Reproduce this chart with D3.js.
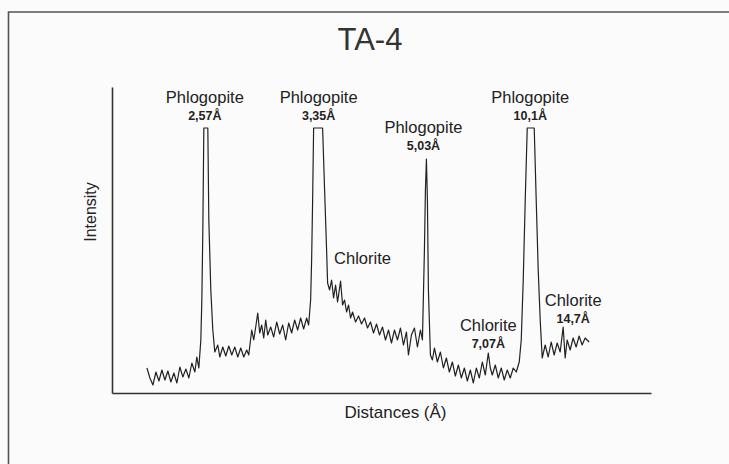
<!DOCTYPE html>
<html>
<head>
<meta charset="utf-8">
<script src="https://cdn.jsdelivr.net/npm/d3@7"></script>
<style>
  html, body { margin: 0; padding: 0; background: #fbfbfb; }
  svg { display: block; font-family: "Liberation Sans", Arial, sans-serif; }
</style>
</head>
<body>
<div id="chart"></div>
<script>
// diffractogram trace (position in scan units, intensity in counts-ish units)
const positions = [
  35, 38, 41, 44, 47, 50, 53, 56, 59, 62, 65, 68, 71, 74, 77, 80, 83, 85, 87,
  89, 90, 91, 92, 96, 97, 99, 101, 103,
  106, 108, 111, 114, 117, 120, 123, 126, 129, 132, 135, 137,
  140, 142, 144, 146, 148, 150, 152, 154, 156, 159, 162, 165, 168, 171, 174,
  177, 180, 183, 186, 189, 192, 195, 197,
  199, 200, 201, 202, 211, 213, 215, 216,
  218, 220, 222, 224, 226, 229, 231, 233, 235, 237, 239, 241, 244, 247, 250,
  253, 256, 259, 262, 265, 268, 271, 274, 277, 280, 283, 286, 289, 292, 295,
  297, 300, 303, 306, 309, 311,
  313, 314, 315, 316, 317, 319,
  321, 323, 326, 329, 332, 335, 338, 341, 344, 347, 350, 353, 356, 359, 362,
  365, 368, 371, 374, 377, 379, 381, 384, 387, 390, 393, 396, 399, 402, 405,
  408, 410, 412, 414, 416, 423, 425, 427, 429, 431,
  434, 437, 440, 443, 446, 449, 452, 454, 456, 459, 462, 465, 468, 471, 474, 478
];
const intensities = [
  25, 15, 8, 21, 12, 23, 13, 22, 11, 20, 10, 26, 16, 24, 15, 30, 21, 36, 25,
  53, 93, 163, 265, 265, 173, 103, 63, 41,
  48, 36, 46, 37, 47, 38, 46, 36, 45, 36, 43, 38,
  63, 53, 66, 80, 60, 68, 55, 73, 58, 66, 56, 71, 59, 68, 53,
  70, 60, 73, 63, 75, 64, 75, 68,
  93, 133, 193, 265, 265, 203, 143, 110,
  103, 113, 95, 108, 91, 112, 88, 93, 81, 88, 75, 81, 71, 77, 69,
  75, 65, 71, 60, 69, 58, 66, 53, 63, 50, 63, 53, 65, 48, 61,
  38, 58, 65, 46, 63, 53,
  143, 203, 234, 193, 103, 38,
  33, 45, 31, 41, 25, 35, 21, 31, 17, 28, 15, 25, 12, 23, 10,
  25, 15, 31, 18, 40, 25, 18, 28, 15, 25, 13, 23, 15, 25, 21,
  31, 53, 113, 193, 265, 265, 193, 123, 73, 35,
  48, 36, 51, 38, 50, 41, 66, 35, 53, 43, 55, 46, 57, 48, 55, 51
];

// peak annotations
const annNames  = ["Phlogopite", "Phlogopite", "Chlorite", "Phlogopite", "Chlorite", "Phlogopite", "Chlorite"];
const annValues = ["2,57Å", "3,35Å", "", "5,03Å", "7,07Å", "10,1Å", "14,7Å"];
const annX      = [93, 207, 251, 312, 377, 419, 462];
const annY      = [290, 290, 129, 260, 62, 290, 87];

const title  = "TA-4";
const xTitle = "Distances (Å)";
const yTitle = "Intensity";

const W = 729, H = 464;
const m = { top: 87, right: 78, bottom: 71, left: 112 };

const svg = d3.select("#chart")
  .append("svg")
    .attr("width", W)
    .attr("height", H);

// scanned page frame (top + left edges only)
svg.append("path")
    .attr("d", `M8.5,${H}V12H${W}`)
    .attr("fill", "none")
    .attr("stroke", "#555")
    .attr("stroke-width", 1.6);

const x = d3.scaleLinear()
  .domain([0, 540])
  .range([m.left, W - m.right]);

const y = d3.scaleLinear()
  .domain([0, 306])
  .range([H - m.bottom, m.top]);

// axes: plain lines, no ticks
const axisStyle = g => {
  g.selectAll("text").remove();
  g.select(".domain").attr("stroke", "#333").attr("stroke-width", 1.6);
};

svg.append("g")
    .attr("transform", `translate(0,${H - m.bottom})`)
    .call(d3.axisBottom(x).tickValues([]).tickSizeOuter(0))
    .call(axisStyle);

svg.append("g")
    .attr("transform", `translate(${m.left},0)`)
    .call(d3.axisLeft(y).tickValues([]).tickSizeOuter(0))
    .call(axisStyle);

// trace
const pts = positions.map((p, i) => [p, intensities[i]]);
svg.append("path")
    .datum(pts)
    .attr("fill", "none")
    .attr("stroke", "#222")
    .attr("stroke-width", 1.2)
    .attr("stroke-linejoin", "round")
    .attr("d", d3.line()
      .x(d => x(d[0]))
      .y(d => y(d[1])));

// annotations
const ann = svg.selectAll("g.ann")
  .data(annNames.map((n, i) => ({ name: n, value: annValues[i], px: annX[i], py: annY[i] })))
  .join("g")
    .attr("class", "ann")
    .attr("transform", d => `translate(${x(d.px)},${y(d.py)})`);

ann.append("text")
    .attr("text-anchor", "middle")
    .attr("font-size", 16.5)
    .attr("fill", "#222")
    .text(d => d.name);

ann.filter(d => d.value)
  .append("text")
    .attr("text-anchor", "middle")
    .attr("y", 17)
    .attr("font-size", 12.5)
    .attr("font-weight", "bold")
    .attr("fill", "#222")
    .text(d => d.value);

// titles
svg.append("text")
    .attr("x", 370)
    .attr("y", 50)
    .attr("text-anchor", "middle")
    .attr("font-size", 31)
    .attr("fill", "#333")
    .text(title);

svg.append("text")
    .attr("x", (m.left + W - m.right) / 2 + 14)
    .attr("y", H - m.bottom + 25)
    .attr("text-anchor", "middle")
    .attr("font-size", 17)
    .attr("fill", "#222")
    .text(xTitle);

svg.append("text")
    .attr("transform", `translate(${m.left - 16},${212}) rotate(-90)`)
    .attr("text-anchor", "middle")
    .attr("font-size", 16)
    .attr("fill", "#222")
    .text(yTitle);
</script>
</body>
</html>
